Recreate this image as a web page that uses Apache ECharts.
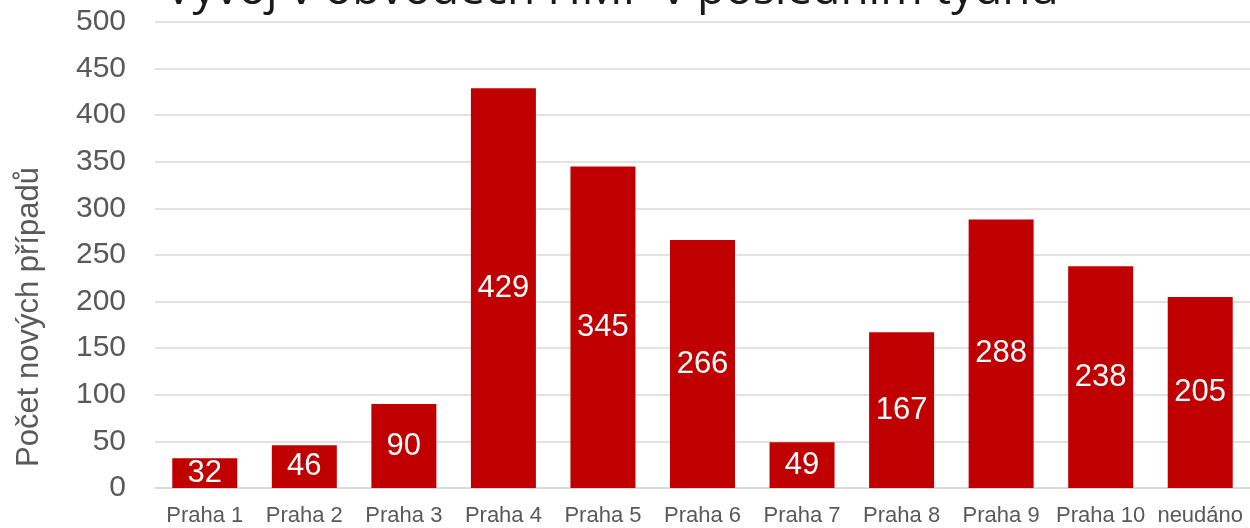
<!DOCTYPE html>
<html>
<head>
<meta charset="utf-8">
<script src="https://cdn.jsdelivr.net/npm/echarts@6/dist/echarts.min.js"></script>
<style>
  html, body { margin: 0; padding: 0; background: #fff; }
  #chart { width: 1250px; height: 528px; }
</style>
</head>
<body>
<div id="chart"></div>
<script>
// data
const districts = ['Praha 1', 'Praha 2', 'Praha 3', 'Praha 4', 'Praha 5', 'Praha 6', 'Praha 7', 'Praha 8', 'Praha 9', 'Praha 10', 'neudáno']
const newCases = [32, 46, 90, 429, 345, 266, 49, 167, 288, 238, 205]
const yTicks = [0, 500, 50] // min, max, step

const chart = echarts.init(document.getElementById('chart'))
chart.setOption({
  animation: false,
  title: {
    text: 'Vývoj v obvodech HMP v posledním týdnu',
    left: 160,
    top: -37,
    textStyle: { fontFamily: 'Open Sans', fontSize: 46, fontWeight: 'normal', color: '#1a1a1a' }
  },
  // y axis title, placed by hand (it sits lower than the grid middle)
  graphic: [{
    type: 'text',
    x: 29,
    y: 317,
    rotation: Math.PI / 2,
    style: {
      text: 'Počet nových případů',
      x: 0,
      y: 0,
      textAlign: 'center',
      textVerticalAlign: 'middle',
      fill: '#595959',
      font: '31px "Liberation Sans"'
    }
  }],
  grid: { left: 155, right: -2, top: 22, bottom: 40 },
  xAxis: {
    type: 'category',
    data: districts,
    axisLine: { lineStyle: { color: '#d9d9d9', width: 1.5 } },
    axisTick: { show: false },
    axisLabel: { color: '#595959', fontSize: 22, fontFamily: 'Liberation Sans', margin: 17, interval: 0 }
  },
  yAxis: {
    type: 'value',
    min: yTicks[0],
    max: yTicks[1],
    interval: yTicks[2],
    axisLabel: { color: '#595959', fontSize: 30, fontFamily: 'Liberation Sans', margin: 29 },
    splitLine: { lineStyle: { color: '#d9d9d9', width: 1.5 } }
  },
  series: [{
    type: 'bar',
    data: newCases,
    barWidth: 65,
    itemStyle: { color: '#c00000' },
    label: {
      show: true,
      position: 'inside',
      color: '#fff',
      fontSize: 31,
      fontFamily: 'Liberation Sans'
    }
  }]
})
</script>
</body>
</html>
